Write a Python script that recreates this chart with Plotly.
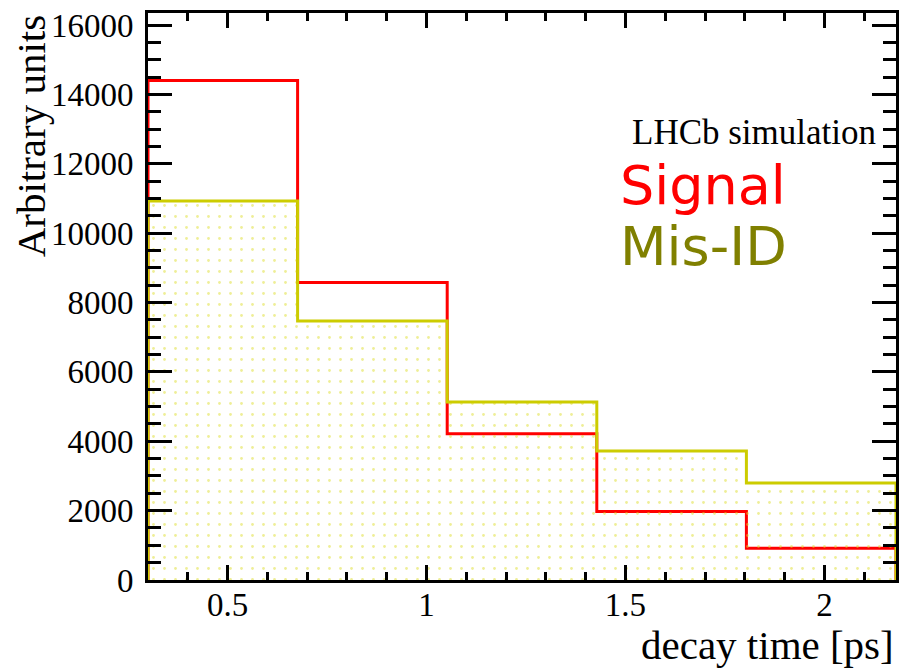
import plotly.graph_objects as go

# Data
bin_edges = [0.3, 0.676, 1.052, 1.428, 1.804, 2.18]
signal = [14400, 8580, 4220, 1975, 915]
misid = [10930, 7470, 5135, 3720, 2795]
y_ticks = [0, 2000, 4000, 6000, 8000, 10000, 12000, 14000, 16000]
x_ticks = [0.5, 1, 1.5, 2]
x_tick_labels = ["0.5", "1", "1.5", "2"]


def step(edges, vals):
    xs = [edges[0]] + list(edges) + [edges[-1]]
    ys = [0] + list(vals) + [vals[-1], 0]
    return xs, ys


fig = go.Figure()

sx, sy = step(bin_edges, signal)
mx, my = step(bin_edges, misid)

fig.add_trace(go.Scatter(
    x=sx, y=sy, mode="lines", line=dict(color="#ff0000", width=3, shape="hv"),
    showlegend=False, hoverinfo="skip"))
fig.add_trace(go.Scatter(
    x=mx, y=my, mode="lines", line=dict(color="#cccc00", width=3, shape="hv"),
    fill="tozeroy", fillcolor="rgba(0,0,0,0)",
    fillpattern=dict(shape=".", fgcolor="#dede30", bgcolor="rgba(255,255,255,0)",
                     size=11, solidity=0.05),
    showlegend=False, hoverinfo="skip"))

serif = "Liberation Serif, Times New Roman, serif"

fig.update_layout(
    width=905, height=670,
    margin=dict(l=148, r=6, t=13, b=90),
    paper_bgcolor="white", plot_bgcolor="white",
    font=dict(family=serif, size=31, color="black"),
    xaxis=dict(
        range=[0.3, 2.18], tickmode="array", tickvals=x_ticks, ticktext=x_tick_labels,
        ticks="inside", ticklen=15, tickwidth=3, tickcolor="black",
        minor=dict(ticks="inside", dtick=0.1, tick0=0, ticklen=8, tickwidth=3, tickcolor="black"),
        showline=True, linewidth=3, linecolor="black", mirror="allticks",
        showgrid=False, zeroline=False,
        tickfont=dict(family=serif, size=33, color="black"),
        ticklabelstandoff=-7,
    ),
    yaxis=dict(
        range=[0, 16350], tickmode="array", tickvals=y_ticks, tickformat="d",
        ticks="inside", ticklen=24, tickwidth=3, tickcolor="black",
        minor=dict(ticks="inside", dtick=500, tick0=0, ticklen=13, tickwidth=3, tickcolor="black"),
        showline=True, linewidth=3, linecolor="black", mirror="allticks",
        showgrid=False, zeroline=False,
        tickfont=dict(family=serif, size=33, color="black"),
        ticklabelstandoff=5,
    ),
    annotations=[
        dict(text="Arbitrary units", xref="paper", yref="paper", x=-0.156, y=0.783,
             xanchor="center", yanchor="middle", textangle=-90, showarrow=False,
             font=dict(family=serif, size=41, color="black")),
        dict(text="decay time [ps]", xref="paper", yref="paper", x=1.0, y=-0.114,
             xanchor="right", yanchor="middle", showarrow=False,
             font=dict(family=serif, size=41, color="black")),
        dict(text="LHCb simulation", xref="paper", yref="paper", x=0.6445, y=0.790,
             xanchor="left", yanchor="middle", showarrow=False,
             font=dict(family=serif, size=35, color="black")),
        dict(text="Signal", xref="paper", yref="paper", x=0.628, y=0.695,
             xanchor="left", yanchor="middle", showarrow=False,
             font=dict(family="DejaVu Sans", size=54, color="#ff0000")),
        dict(text="Mis-ID", xref="paper", yref="paper", x=0.628, y=0.589,
             xanchor="left", yanchor="middle", showarrow=False,
             font=dict(family="DejaVu Sans", size=54, color="#808000")),
    ],
)

fig.write_html("out.html")
